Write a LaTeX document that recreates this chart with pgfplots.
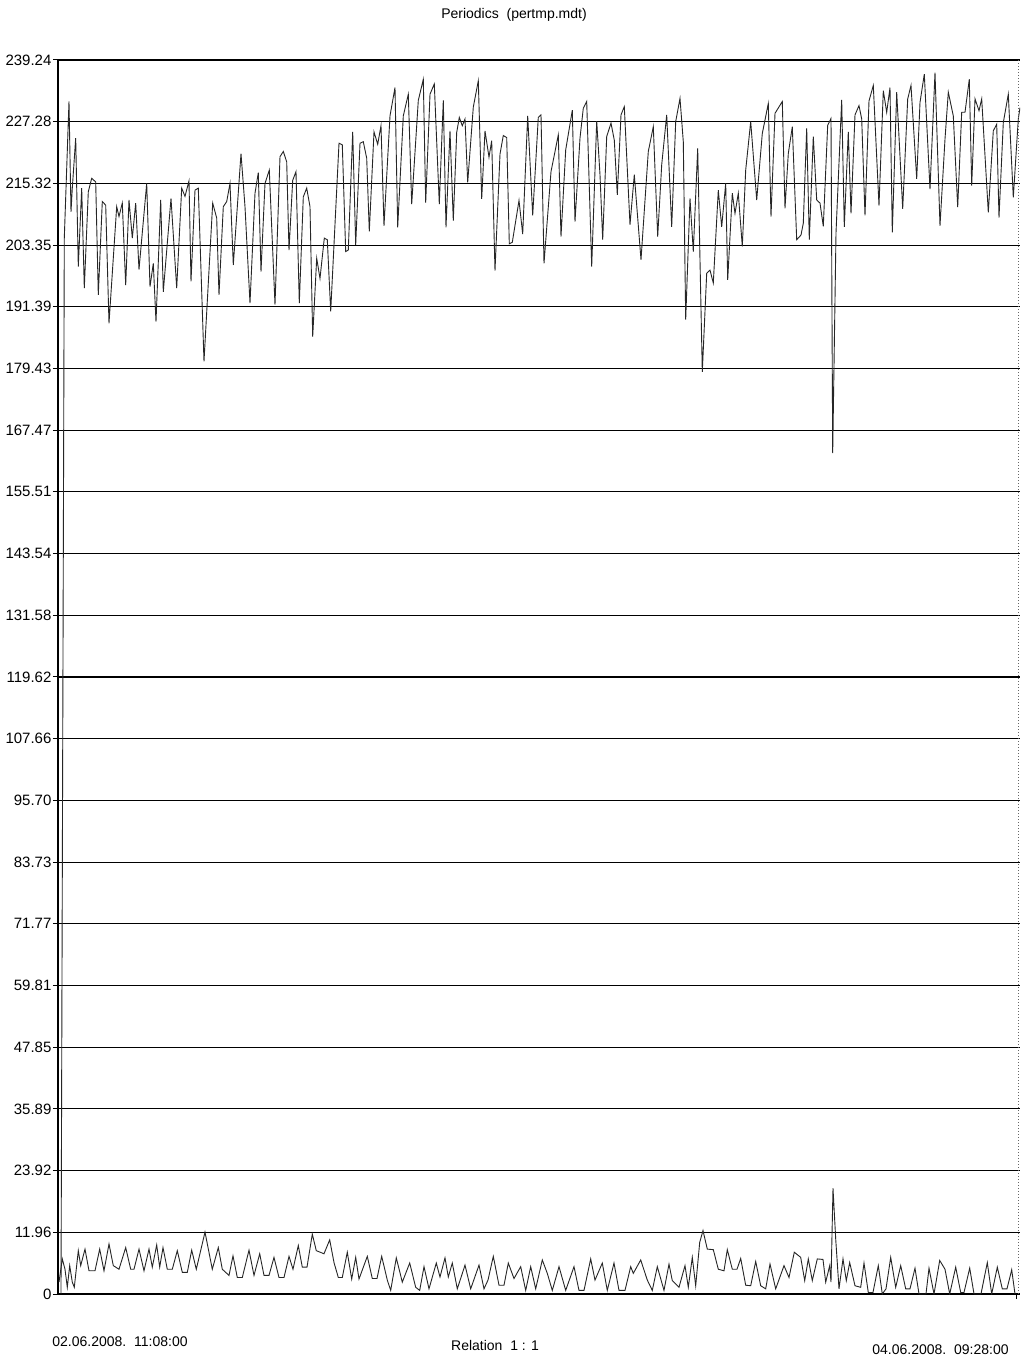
\documentclass[border=0pt]{standalone}
\usepackage{fontspec}
\setmainfont{Liberation Sans}
\usepackage{pgfplots}
\pgfplotsset{compat=1.18}
\begin{document}
\begin{tikzpicture}
\useasboundingbox (0,0) rectangle (512pt,681pt);
\fill[white] (0,0) rectangle (512pt,681pt);
\begin{axis}[
  at={(29pt,34pt)}, anchor=south west,
  scale only axis, width=481pt, height=617pt,
  xmin=58, xmax=1020, ymin=0, ymax=239.24,
  axis x line*=bottom, axis y line*=left,
  x axis line style={line width=1pt},
  y axis line style={line width=0.7pt},
  xtick={1016}, xticklabels={},
  ytick={0,11.96,23.92,35.89,47.85,59.81,71.77,83.73,95.70,107.66,119.62,131.58,143.54,155.51,167.47,179.43,191.39,203.35,215.32,227.28,239.24},
  yticklabels={0,11.96,23.92,35.89,47.85,59.81,71.77,83.73,95.70,107.66,119.62,131.58,143.54,155.51,167.47,179.43,191.39,203.35,215.32,227.28,239.24},
  /pgf/number format/assume math mode=true,
  tick align=outside, major tick length=2.5pt,
  tick style={black, line width=0.5pt},
  yticklabel style={font=\fontsize{7.5}{9}\selectfont, inner sep=0.6pt},
  ymajorgrids, major grid style={black, line width=0.55pt},
  clip=true,
]
\addplot[black!85, line width=0.45pt] coordinates {
(61,0)(64.3,204.7)(69,231.2)(71,209.8)(72.3,214.4)(75.7,224.1)(78.3,199.2)(81.7,214.4)(84.3,195.0)(88.3,213.7)(91.7,216.3)(95.7,215.6)(98.3,193.7)(102.3,211.8)(105.7,211.1)(109,188.2)(116.7,210.8)(119,208.9)(122.3,211.5)(125.7,195.6)(129,212.1)(132.3,204.7)(135.7,211.5)(139,198.6)(146.7,215.3)(150,195.3)(153.3,199.8)(156,188.5)(160.7,212.1)(163.3,194.3)(171,212.4)(176.7,195.0)(181.7,214.4)(185,212.8)(189,215.8)(191,196.3)(195,214.0)(198.3,214.4)(204,180.8)(212.7,211.5)(216.7,208.6)(219,193.7)(223.3,210.8)(226.7,211.8)(230,215.3)(233.3,199.5)(241,221.1)(245,210.8)(250,192.1)(255,213.4)(258.3,217.4)(261,198.2)(265,215.3)(269.3,217.9)(275,191.8)(280,220.5)(283.3,221.5)(286.7,219.5)(289,202.4)(292.7,215.9)(296,217.6)(299.3,192.1)(303.3,212.7)(306.7,214.4)(310,210.8)(312.7,185.6)(316.7,200.8)(320,196.9)(324.3,204.7)(327.3,204.4)(330.7,190.5)(339,223.1)(342.3,222.8)(345.7,202.1)(348.3,202.4)(352.7,225.3)(355.7,203.4)(360,223.1)(363.3,223.4)(366.7,220.2)(369.3,206.0)(374,225.3)(377.7,222.9)(381,226.5)(384,207.1)(390,228.4)(395,233.9)(397.7,206.8)(403.3,228.4)(408.3,232.6)(411.7,211.3)(418.3,231.4)(423.3,235.5)(425.7,211.6)(430,232.6)(434.3,234.6)(439.3,211.3)(443.3,231.4)(446,206.8)(450,225.5)(453.3,208.1)(456.7,225.2)(459.3,228.1)(462.3,226.5)(465,227.8)(467.7,215.5)(473.3,230.1)(478.3,235.2)(481.7,212.3)(485,225.5)(489,220.4)(491.7,223.6)(495,198.4)(500,221.0)(503.3,224.6)(506.7,224.2)(509.3,203.6)(512.3,203.9)(519,212.0)(522.7,205.5)(527.7,228.4)(532.7,209.1)(538.3,228.1)(541,228.6)(544,199.8)(551,217.6)(558.3,224.7)(561,205.0)(565.7,221.8)(572.3,229.5)(575,207.9)(580,224.1)(583.3,229.9)(586.7,231.2)(591.7,199.2)(596.7,227.4)(600,217.0)(602.7,204.4)(606.7,224.4)(611,227.0)(614.3,223.7)(617.3,213.1)(621,228.6)(624.3,230.2)(630,207.3)(634.3,217.0)(641,200.5)(648.3,221.5)(653.3,226.3)(657.7,205.0)(661.7,218.9)(666.7,228.6)(671.7,206.9)(675.7,227.3)(680,231.8)(683.3,223.4)(685.7,188.9)(690,212.4)(693.3,202.1)(697.7,222.1)(702.3,178.8)(706.7,197.9)(710,198.5)(713.3,196.0)(718.3,214.0)(721.7,206.9)(725.7,215.3)(727.7,196.6)(732.3,213.4)(735,209.5)(738.3,213.4)(742.3,203.1)(745.7,217.9)(750.7,227.3)(756.7,212.1)(762.3,225.0)(768.3,230.8)(771,208.9)(775,228.9)(782.3,231.2)(785,210.5)(788.3,221.1)(792.3,226.3)(796.7,204.4)(801,205.3)(803.3,207.6)(806.7,226.0)(809.3,204.4)(813.3,224.4)(816.7,212.1)(820,211.5)(823.3,207.0)(827.7,226.6)(831,227.9)(832.7,163.0)(836,205.7)(841.7,231.5)(844.3,206.9)(848.3,225.3)(851,209.5)(855,228.6)(859,230.4)(861.7,227.8)(865,209.1)(869,231.3)(873.3,234.3)(879,211.0)(883.3,233.3)(886.7,229.1)(890,233.9)(892.3,205.8)(896.7,233.0)(902.7,210.4)(907.7,231.7)(911,234.3)(916.7,216.2)(920,231.0)(924.3,236.5)(930,214.2)(935,236.8)(940,207.1)(945,223.9)(948.3,233.0)(953.3,228.4)(957.7,210.7)(961.7,229.1)(965,229.1)(969.3,235.5)(971.7,214.9)(975,231.7)(979,229.4)(981.7,231.7)(988.3,209.7)(993.3,225.5)(996.7,226.8)(999,208.7)(1003.3,227.1)(1008.3,232.6)(1013.3,212.6)(1018.3,227.8)(1020,230.0)
};
\addplot[black!85, line width=0.45pt] coordinates {
(59,2.3)(62.3,6.8)(65,4.8)(67.3,1.3)(69.7,5.5)(72.3,2.3)(74.3,1.3)(78.3,8.4)(80.7,5.5)(85,8.7)(89,4.5)(95,4.5)(99.7,8.7)(104,4.5)(109,9.7)(113.3,5.5)(119,4.8)(125.7,9.0)(130.7,4.8)(134,4.8)(139,8.7)(144,4.5)(149,8.7)(152.3,5.2)(156.7,9.5)(159.7,5.2)(163,9.0)(167.3,4.8)(172.3,4.8)(177.3,8.4)(182.3,4.2)(187.3,4.2)(191.7,8.5)(196.3,4.8)(205,12.0)(212.3,4.8)(218.3,9.0)(222.3,4.8)(229,3.6)(233,7.4)(237.3,3.2)(242.3,3.2)(249,8.5)(254,3.6)(259.7,7.8)(264,3.6)(269,3.6)(274,7.1)(279,3.2)(284,3.2)(289,7.3)(293,4.8)(298.3,9.4)(302.3,5.2)(307,5.2)(312.3,11.6)(316.3,8.4)(324,7.8)(329.7,10.5)(334,6.1)(338.3,3.2)(342.3,3.2)(347.3,8.1)(351.7,2.9)(355.7,7.1)(359,2.9)(367.3,7.3)(372.3,3.0)(377,3.0)(381.7,7.3)(387.3,2.7)(390.7,0.7)(396.3,7.0)(402.3,2.3)(409.7,6.0)(415.7,1.3)(419.7,0.7)(424,5.3)(429,1.0)(436.3,6.0)(440,3.3)(445,7.0)(448.3,3.3)(452.3,6.0)(457.3,1.0)(465,5.6)(470.7,1.0)(479,5.6)(484,1.0)(488,2.7)(493.3,7.3)(499,1.7)(504,1.7)(508.3,6.0)(514,3.0)(520.7,5.3)(525.7,0.7)(530.7,5.3)(535.7,1.0)(542.3,6.6)(547.3,4.0)(552.3,0.7)(559,5.3)(565.7,0.7)(574,5.3)(579,0.7)(584,0.7)(590.7,6.8)(595,2.7)(602.3,6.0)(607.3,0.7)(614,6.0)(619,0.7)(625,0.7)(630.7,5.3)(633.3,4.0)(640.7,6.6)(647.3,2.7)(652.3,0.7)(657.3,5.3)(664,0.7)(669,5.8)(672.3,2.6)(679,1.3)(685,5.5)(688.3,1.3)(692.3,7.1)(695.7,1.6)(699.7,10.0)(703,12.3)(707.3,8.7)(713.3,8.6)(718.3,4.8)(724,4.5)(727.3,8.6)(732.3,4.8)(737,4.8)(740.7,6.9)(745.7,1.7)(750.7,1.6)(755.7,6.3)(760.7,1.6)(765.7,1.0)(770,5.8)(775.7,1.0)(784,5.5)(789,3.2)(794.3,8.1)(800.7,7.1)(804.7,2.6)(808.3,6.8)(812.3,2.6)(817.3,6.8)(823,6.7)(825.7,2.3)(829.7,5.5)(831,2.3)(833,20.5)(835.7,10.7)(839,1.0)(843,6.8)(846.3,2.6)(849.7,6.1)(855,1.6)(860.7,1.3)(864,6.0)(868.3,0.3)(873,0.3)(878.3,5.5)(882.3,0)(886,1.0)(890.7,7.1)(895.7,1.3)(900.7,5.5)(905.7,1.0)(910,1.0)(915,5.0)(919,0)(926,0)(929,5.0)(934,0)(939.7,6.5)(945,4.8)(949.7,0)(955.7,5.2)(960.7,0.3)(964,0.3)(969.7,5.0)(974,0)(981,0)(987.3,6.1)(991.7,0)(997.3,5.2)(1002.3,1.0)(1007,1.0)(1011.7,4.7)(1015,0)
};
\draw[densely dotted, black!60, line width=0.5pt] (axis cs:1018,0) -- (axis cs:1018,239.24);
\end{axis}
\node[font=\fontsize{7}{8}\selectfont] at (257pt,673.5pt) {Periodics\ \ (pertmp.mdt)};
\node[font=\fontsize{7}{8}\selectfont, anchor=west, inner sep=0pt] at (26pt,10pt) {02.06.2008.\ \ 11:08:00};
\node[font=\fontsize{7}{8}\selectfont] at (247.5pt,8.5pt) {Relation\ \ 1 : 1};
\node[font=\fontsize{7}{8}\selectfont, anchor=east, inner sep=0pt] at (504.5pt,6pt) {04.06.2008.\ \ 09:28:00};
\end{tikzpicture}
\end{document}
